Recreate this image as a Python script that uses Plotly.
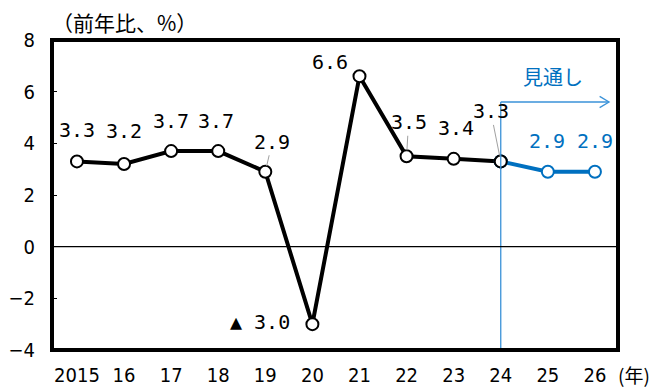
import plotly.graph_objects as go

years = [2015, 2016, 2017, 2018, 2019, 2020, 2021, 2022, 2023, 2024, 2025, 2026]
tick_labels = ["2015", "16", "17", "18", "19", "20", "21", "22", "23", "24", "25", "26"]
actual_years = years[:10]
actual_values = [3.3, 3.2, 3.7, 3.7, 2.9, -3.0, 6.6, 3.5, 3.4, 3.3]
forecast_years = years[9:]
forecast_values = [3.3, 2.9, 2.9]
label_texts = ["3.3", "3.2", "3.7", "3.7", "2.9", "▲ 3.0", "6.6", "3.5", "3.4", "3.3", "2.9", "2.9"]
all_values = actual_values + forecast_values[1:]

BLACK = "#000000"
BLUE = "#0070C0"
FRAME_BLUE = "#3A92D8"
NUM_FONT = "DejaVu Sans Mono"
TICK_FONT = "DejaVu Sans Condensed, sans-serif"
CJK = "Noto Sans CJK JP"

fig = go.Figure()

fig.add_trace(go.Scatter(
    x=actual_years, y=actual_values, mode="lines+markers",
    line=dict(color=BLACK, width=4),
    marker=dict(symbol="circle", size=12, color="white", line=dict(color=BLACK, width=2)),
    showlegend=False, cliponaxis=False))

fig.add_trace(go.Scatter(
    x=forecast_years, y=forecast_values, mode="lines+markers",
    line=dict(color=BLUE, width=4),
    marker=dict(symbol="circle", size=12, color="white", line=dict(color=BLUE, width=2)),
    showlegend=False, cliponaxis=False))
# redraw 2024 marker in black on top
fig.add_trace(go.Scatter(
    x=[actual_years[-1]], y=[actual_values[-1]], mode="markers",
    marker=dict(symbol="circle", size=12, color="white", line=dict(color=BLACK, width=2)),
    showlegend=False, cliponaxis=False))

# label offsets (pixels): (ax, ay, leader)
offsets = [(0, -31, False), (0, -33, False), (0, -30, False), (-2, -30, False),
           (7, -30, True), (-52, -2, False), (-29, -14, False), (2, -34, True),
           (2, -31, False), (-10, -50, True), (-1, -31, False), (0, -31, False)]

for i, (yr, val, txt) in enumerate(zip(years, all_values, label_texts)):
    ax, ay, leader = offsets[i]
    color = BLUE if i >= 10 else BLACK
    fig.add_annotation(
        x=yr, y=val, text=txt, ax=ax, ay=ay, xref="x", yref="y",
        showarrow=True, arrowhead=0, arrowwidth=1,
        arrowcolor="#A0A0A0" if leader else "rgba(0,0,0,0)",
        standoff=6,
        font=dict(family=NUM_FONT, size=20, color=color))

# forecast bracket
fig.add_shape(type="line", xref="x", yref="y", x0=2024, x1=2024, y0=-4, y1=5.6,
              line=dict(color=FRAME_BLUE, width=1.3))
fig.add_shape(type="line", xref="x", yref="y", x0=2024, x1=2026.3, y0=5.6, y1=5.6,
              line=dict(color=FRAME_BLUE, width=1.3))
fig.add_shape(type="path", xref="x", yref="y",
              path="M 2026.1,5.82 L 2026.3,5.6 L 2026.1,5.38",
              line=dict(color=FRAME_BLUE, width=1.3))
fig.add_annotation(x=2025.1, y=6.6, xref="x", yref="y", text="見通し", showarrow=False,
                   font=dict(family=CJK, size=20, color=BLUE))

# zero line
fig.add_shape(type="line", xref="paper", yref="y", x0=0, x1=1, y0=0, y1=0,
              line=dict(color=BLACK, width=1.3))
# frame
fig.add_shape(type="rect", xref="paper", yref="paper", x0=0, x1=1, y0=0, y1=1,
              line=dict(color=BLACK, width=4))

fig.add_annotation(xref="paper", yref="paper", x=0.014, y=1.0, yanchor="bottom", xanchor="left",
                   yshift=1, xshift=-10, text="（前年比、%）", showarrow=False,
                   font=dict(family=CJK, size=21, color=BLACK))
fig.add_annotation(xref="paper", yref="paper", x=1.0, y=0, yanchor="top", xanchor="left",
                   yshift=-10, xshift=-1, text="(年)", showarrow=False, borderpad=0,
                   font=dict(family=CJK, size=19, color=BLACK))

fig.update_layout(
    width=662, height=388,
    margin=dict(l=44, r=52, t=32, b=46),
    paper_bgcolor="white", plot_bgcolor="white",
    xaxis=dict(range=[2014.47, 2026.49], tickvals=years, ticktext=tick_labels,
               showgrid=False, zeroline=False, showline=False, ticks="",
               ticklabelstandoff=11, automargin=False,
               tickfont=dict(family=TICK_FONT, size=20, color=BLACK)),
    yaxis=dict(range=[-4, 8], tickvals=[-4, -2, 0, 2, 4, 6, 8],
               ticktext=["−4", "−2", "0", "2", "4", "6", "8"],
               showgrid=False, zeroline=False, showline=False,
               ticks="inside", ticklen=5, tickwidth=1, tickcolor=BLACK,
               ticklabelstandoff=16, automargin=False,
               tickfont=dict(family=TICK_FONT, size=20, color=BLACK)),
)

fig.write_html("out.html")
